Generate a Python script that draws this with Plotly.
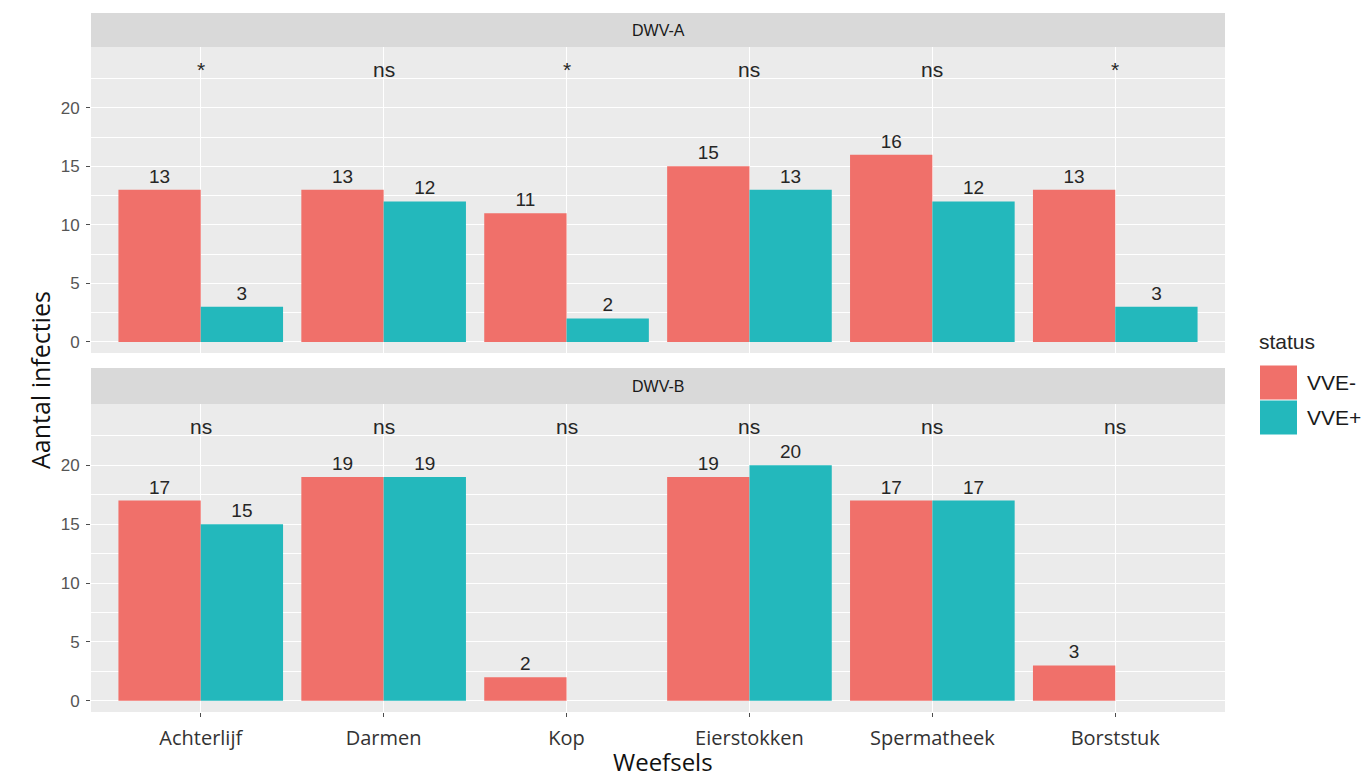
import plotly.graph_objects as go
from plotly.subplots import make_subplots

# Tissue categories (x axis) and the two virus panels
weefsels = ["Achterlijf", "Darmen", "Kop", "Eierstokken", "Spermatheek", "Borststuk"]
panels = ["DWV-A", "DWV-B"]

# Infection counts per status group
dwv_a_min = [13, 13, 11, 15, 16, 13]
dwv_a_plus = [3, 12, 2, 13, 12, 3]
dwv_b_min = [17, 19, 2, 19, 17, 3]
dwv_b_plus = [15, 19, None, 20, 17, None]

# Significance labels per tissue
sig_a = ["*", "ns", "*", "ns", "ns", "*"]
sig_b = ["ns", "ns", "ns", "ns", "ns", "ns"]
sig_y = 23.3

status_labels = ["VVE-", "VVE+"]
colors = ["#F0706A", "#23B8BC"]

# Page geometry (pixels)
W, H = 1363, 778
L, R, T, B = 91, 138, 13, 66
pw, ph = W - L - R, H - T - B


def py(pix):
    """Convert a page y pixel to paper coordinate."""
    return (H - B - pix) / ph


def px(pix):
    return (pix - L) / pw


panel_domains = [(py(353), py(47)), (py(712), py(404))]
strip_boxes = [(py(47), py(13)), (py(404), py(368))]

fig = make_subplots(rows=2, cols=1, shared_xaxes=True)

series = [(dwv_a_min, dwv_a_plus), (dwv_b_min, dwv_b_plus)]
num_font = dict(family="Liberation Sans, Arial, sans-serif", size=19, color="#262626")

for i, (vmin, vplus) in enumerate(series):
    row = i + 1
    for j, vals in enumerate((vmin, vplus)):
        fig.add_trace(
            go.Bar(
                x=weefsels, y=vals, name=status_labels[j],
                marker=dict(color=colors[j], line=dict(width=0)),
                text=vals, texttemplate="%{y}", textposition="outside",
                textfont=num_font, cliponaxis=False, showlegend=False,
                offsetgroup=str(j),
            ),
            row=row, col=1,
        )

fig.update_layout(
    width=W, height=H, barmode="group", bargap=0.1, bargroupgap=0,
    paper_bgcolor="white", plot_bgcolor="#EBEBEB",
    margin=dict(l=L, r=R, t=T, b=B),
    font=dict(family="Open Sans, sans-serif", color="#4D4D4D"),
)

yaxis_common = dict(
    range=[-0.95, 25.2], tickmode="array", tickvals=[0, 5, 10, 15, 20],
    showgrid=True, gridcolor="white", gridwidth=1.2, zeroline=False,
    ticks="outside", ticklen=4, tickwidth=1, tickcolor="#4D4D4D",
    tickfont=dict(family="Liberation Sans, Arial, sans-serif", size=17, color="#555555"),
    ticklabelstandoff=3, showline=False,
    minor=dict(tickmode="array", tickvals=[2.5, 7.5, 12.5, 17.5, 22.5],
               showgrid=True, gridcolor="white", gridwidth=0.6, ticks=""),
)
fig.update_layout(
    yaxis=dict(domain=list(panel_domains[0]), **yaxis_common),
    yaxis2=dict(domain=list(panel_domains[1]), **yaxis_common),
)

xaxis_common = dict(
    range=[-0.6, len(weefsels) - 0.4],
    showgrid=True, gridcolor="white", gridwidth=1.2, zeroline=False,
    showline=False, categoryorder="array", categoryarray=weefsels,
)
fig.update_xaxes(**xaxis_common)
fig.update_layout(
    xaxis=dict(showticklabels=False, ticks=""),
    xaxis2=dict(
        showticklabels=True, ticks="outside", ticklen=4, tickwidth=1,
        tickcolor="#4D4D4D", ticklabelstandoff=4,
        tickfont=dict(family="Open Sans, sans-serif", size=20, color="#333333"),
    ),
)

annotations = []
# significance marks above each tissue
for i, sig in enumerate((sig_a, sig_b)):
    yref = "y" if i == 0 else "y2"
    xref = "x" if i == 0 else "x2"
    for w, s in zip(weefsels, sig):
        annotations.append(dict(
            x=w, y=sig_y, xref=xref, yref=yref, text=s, showarrow=False,
            xanchor="center", yanchor="middle",
            font=dict(family="Liberation Sans, Arial, sans-serif", size=21, color="#262626"),
        ))

shapes = []
# facet strips
for name, (y0, y1) in zip(panels, strip_boxes):
    shapes.append(dict(type="rect", xref="paper", yref="paper", x0=0, x1=1,
                       y0=y0, y1=y1, fillcolor="#D9D9D9", line=dict(width=0), layer="below"))
    annotations.append(dict(x=0.5, y=(y0 + y1) / 2, xref="paper", yref="paper",
                            text=name, showarrow=False, xanchor="center", yanchor="middle",
                            font=dict(family="Liberation Sans, Arial, sans-serif", size=16, color="#1A1A1A")))

# axis titles
annotations.append(dict(x=px(663), y=py(761), xref="paper", yref="paper", text="Weefsels",
                        showarrow=False, xanchor="center", yanchor="middle",
                        font=dict(family="Open Sans, sans-serif", size=24, color="#111111")))
annotations.append(dict(x=px(40), y=py(380), xref="paper", yref="paper", text="Aantal infecties",
                        textangle=-90, showarrow=False, xanchor="center", yanchor="middle",
                        font=dict(family="Open Sans, sans-serif", size=25, color="#111111")))

# legend: title, keys and labels
annotations.append(dict(x=px(1257), y=py(341), xref="paper", yref="paper", text="status",
                        xanchor="left", yanchor="middle", showarrow=False,
                        font=dict(family="Liberation Sans, Arial, sans-serif", size=21, color="#262626")))
key_rows = [(365, 400), (400, 435)]
for (top, bot), lab, col in zip(key_rows, status_labels, colors):
    shapes.append(dict(type="rect", xref="paper", yref="paper",
                       x0=px(1260), x1=px(1297), y0=py(bot - 0.5), y1=py(top + 0.5),
                       fillcolor=col, line=dict(width=0)))
    annotations.append(dict(x=px(1305), y=py((top + bot) / 2), xref="paper", yref="paper",
                            text=lab, xanchor="left", yanchor="middle", showarrow=False,
                            font=dict(family="Liberation Sans, Arial, sans-serif", size=21, color="#1A1A1A")))

fig.update_layout(shapes=shapes, annotations=annotations)

fig.write_html("out.html")
